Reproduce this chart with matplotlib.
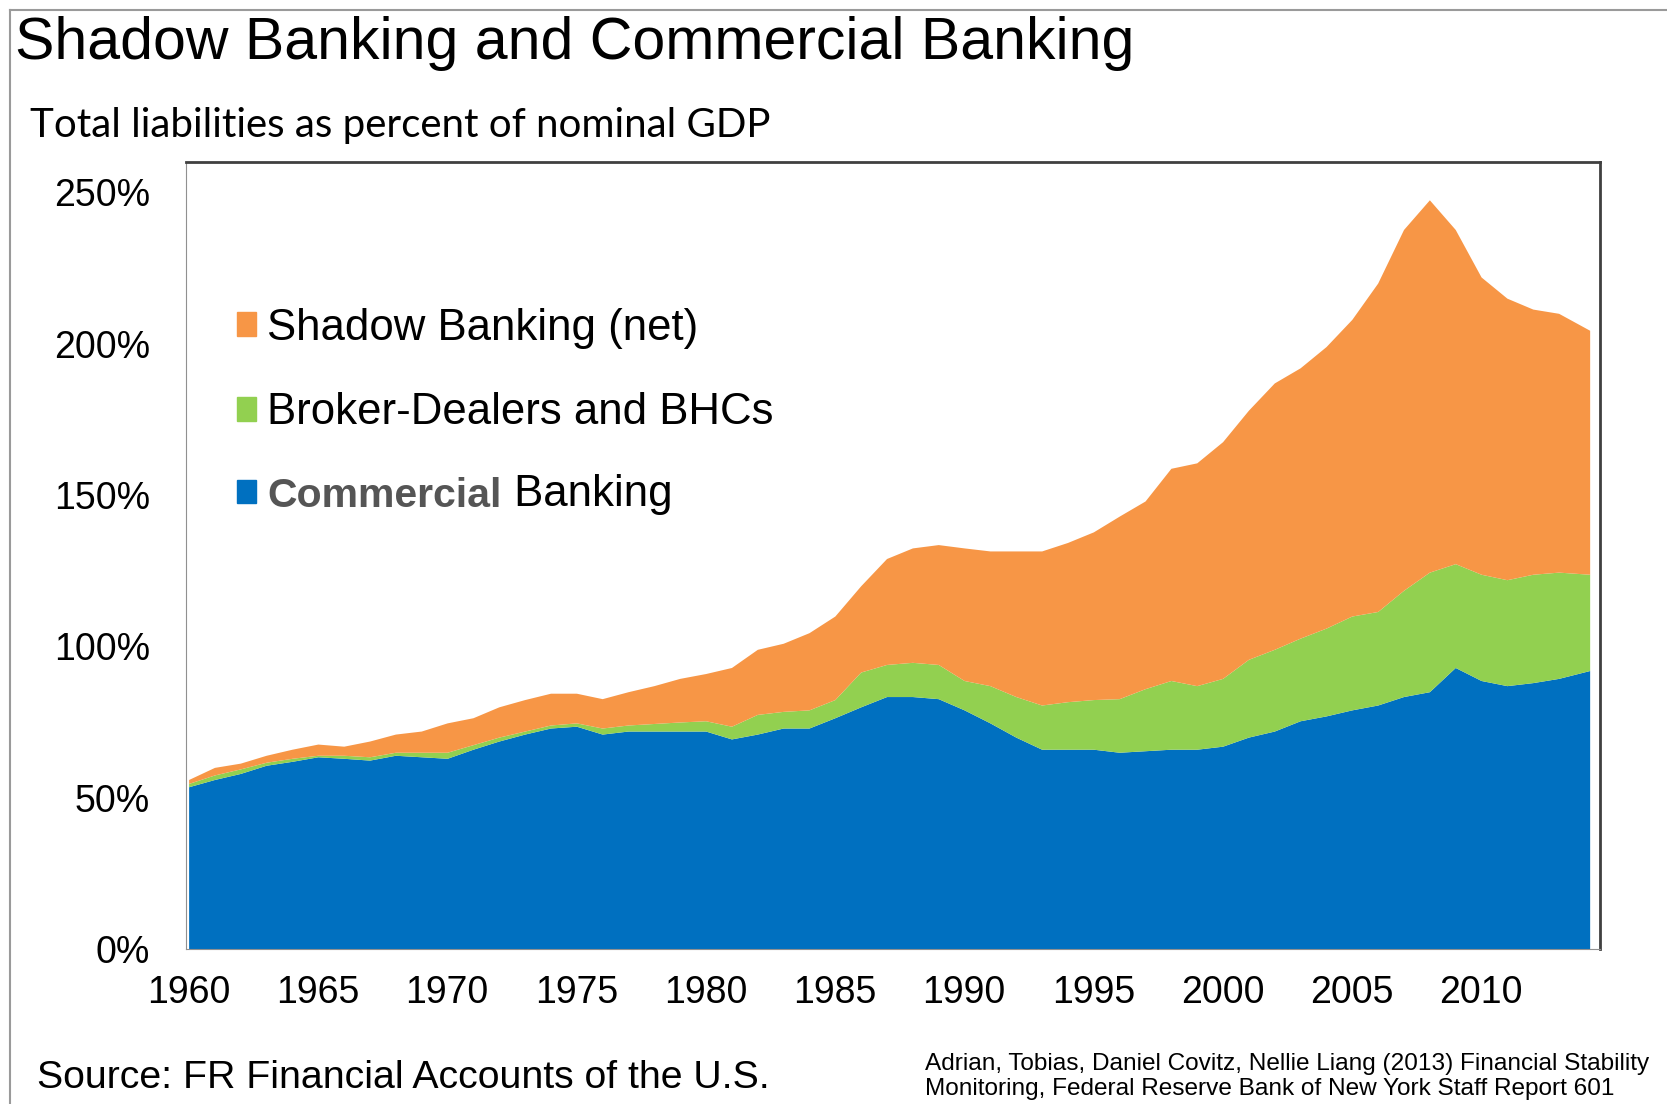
# Shadow banking vs commercial banking, liabilities as % of GDP
import numpy as np
import matplotlib.pyplot as plt
from matplotlib.lines import Line2D
from matplotlib.patches import Patch

years = [1960, 1961, 1962, 1963, 1964, 1965, 1966, 1967, 1968, 1969,
         1970, 1971, 1972, 1973, 1974, 1975, 1976, 1977, 1978, 1979,
         1980, 1981, 1982, 1983, 1984, 1985, 1986, 1987, 1988, 1989,
         1990, 1991, 1992, 1993, 1994, 1995, 1996, 1997, 1998, 1999,
         2000, 2001, 2002, 2003, 2004, 2005, 2006, 2007, 2008, 2009,
         2010, 2011, 2012, 2013, 2014.2]

# stacked tops (percent of GDP)
commercial = [53.6, 56, 58, 60.7, 62, 63.5, 63, 62.4, 64, 63.5,
              63, 66, 68.7, 71, 73, 73.6, 71, 72, 72, 72,
              72, 69.4, 71, 73, 73, 76.4, 80, 83.4, 83.4, 82.7,
              79, 74.7, 70, 66, 66, 66, 65, 65.5, 66, 66,
              67, 70, 72, 75.4, 77, 79, 80.6, 83.4, 85, 93,
              88.7, 87, 88, 89.4, 92]
with_brokers = [54.7, 57.5, 59.5, 61.7, 63, 64, 64, 63.5, 65, 65,
                65, 67.5, 70, 72, 74, 74.7, 73, 74, 74.5, 75,
                75.4, 73.6, 77.5, 78.5, 79, 82.4, 91.5, 94, 94.7, 94,
                88.7, 87, 83.4, 80.6, 81.7, 82.4, 82.7, 86, 88.7, 87,
                89.4, 95.7, 99, 102.7, 106, 110, 111.5, 118.5, 124.5, 127.3,
                123.8, 122, 123.8, 124.5, 123.8]
total = [56, 60, 61.4, 64, 66, 67.7, 67, 68.7, 71, 72,
         74.7, 76.4, 80, 82.4, 84.5, 84.5, 82.7, 85, 87, 89.4,
         91, 93, 99, 101, 104.5, 110, 120, 129, 132.5, 133.6,
         132.5, 131.5, 131.5, 131.5, 134.3, 137.8, 143, 148, 158.8, 160.6,
         167.6, 178, 187, 192, 199, 208, 220, 237.7, 247.5, 237.7,
         222, 215, 211.4, 210, 204.4]

labels = ['Shadow Banking (net)', 'Broker-Dealers and BHCs', 'Commercial']
colors = ['#F79646', '#92D050', '#0070C0']

plt.rcParams['font.family'] = ['Liberation Sans', 'DejaVu Sans']

fig = plt.figure(figsize=(16.67, 11.04), dpi=100)
ax = fig.add_axes([0.1116, 0.1404, 0.8482, 0.7129])

ax.fill_between(years, 0, commercial, color=colors[2], lw=0)
ax.fill_between(years, commercial, with_brokers, color=colors[1], lw=0)
ax.fill_between(years, with_brokers, total, color=colors[0], lw=0)

ax.set_xlim(1959.9, 2014.6)
ax.set_ylim(0, 260)
ax.set_xticks(range(1960, 2011, 5))
ax.set_yticks(range(0, 251, 50))
ax.set_yticklabels([f'{v}%' for v in range(0, 251, 50)])
ax.tick_params(axis='both', labelsize=27, length=0)
ax.tick_params(axis='x', pad=19)
ax.tick_params(axis='y', pad=26)

for side in ['top', 'right']:
    ax.spines[side].set_color('#404040')
    ax.spines[side].set_linewidth(2)
ax.spines['left'].set_color('#909090')
ax.spines['bottom'].set_color('#909090')

handles = [Patch(color=c) for c in colors]
leg = ax.legend(handles, labels, loc='upper left', bbox_to_anchor=(0.008, 0.865),
                frameon=False, fontsize=31.5, handlelength=0.45, handleheight=0.45,
                handletextpad=0.25, labelspacing=1.0)
# "Commercial" is grey bold in the source, "Banking" stays black
comm = leg.get_texts()[2]
comm.set_color('#555555')
comm.set_fontweight('bold')
comm.set_fontsize(29.5)
ax.annotate(' Banking', xy=(1, 0), xycoords=comm, fontsize=31.5,
            va='bottom', ha='left', zorder=10)

fig.text(0.009, 0.961, 'Shadow Banking and Commercial Banking', fontsize=42.5,
         va='center', ha='left')
fig.text(0.018, 0.886, 'Total liabilities as percent of nominal GDP',
         fontsize=29, family='Lato', va='center', ha='left')
fig.text(0.022, 0.024, 'Source: FR Financial Accounts of the U.S.', fontsize=28.3,
         va='center', ha='left')
fig.text(0.555, 0.025, 'Adrian, Tobias, Daniel Covitz, Nellie Liang (2013) Financial Stability\n'
         'Monitoring, Federal Reserve Bank of New York Staff Report 601',
         fontsize=17.6, va='center', ha='left', linespacing=1.2)

# thin grey frame on top and left of the image
fig.add_artist(Line2D([0.006, 1], [0.991, 0.991], color='#9a9a9a', lw=1.5))
fig.add_artist(Line2D([0.006, 0.006], [0, 0.991], color='#9a9a9a', lw=1.5))

fig.savefig('out.png', dpi=100)
